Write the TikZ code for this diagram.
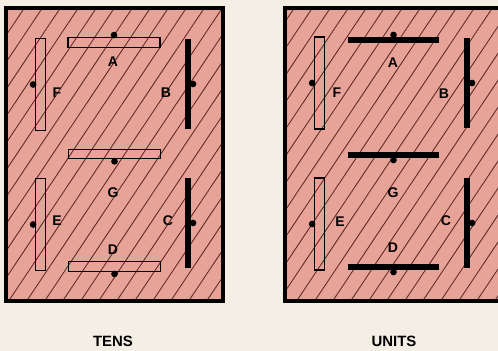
\documentclass[tikz,border=0pt]{standalone}
\usepackage{fontspec}
\setsansfont{Liberation Sans}
\usetikzlibrary{positioning}
\definecolor{paper}{HTML}{F4EFE4}
\definecolor{salmon}{HTML}{E8A398}
\definecolor{hatchred}{HTML}{5E2A26}
\tikzset{
    font=\sffamily\bfseries,
    % Panels
    panel/.style={draw=black, line width=1.8pt},
    hatch/.style={hatchred, line width=0.5pt},
    % Segments
    hsegOff/.style={rectangle, draw=black, line width=0.8pt, inner sep=0pt,
                    minimum width=1.84cm, minimum height=0.19cm},
    vsegOff/.style={rectangle, draw=black, line width=0.8pt, inner sep=0pt,
                    minimum width=0.19cm, minimum height=1.84cm},
    hsegOn/.style={rectangle, fill=black, inner sep=0pt,
                   minimum width=1.82cm, minimum height=0.11cm},
    vsegOn/.style={rectangle, fill=black, inner sep=0pt,
                   minimum width=0.11cm, minimum height=1.82cm},
    pin/.style={circle, fill=black, inner sep=0pt, minimum size=3.8pt},
    % Labels
    lbl/.style={font=\fontsize{8}{9}\sffamily\bfseries, inner sep=0pt},
    caption/.style={font=\fontsize{8.5}{10}\sffamily\bfseries, inner sep=0pt}
}

\begin{document}
\begin{tikzpicture}[x=0.02cm, y=-0.02cm]

\useasboundingbox[fill=paper] (0,0) rectangle (498,351);

% Panels with hatching
\fill[salmon] (6,8) rectangle (223,301);
\fill[salmon] (285,8) rectangle (510,301);
\begin{scope}
    \clip (6,8) rectangle (223,301) (285,8) rectangle (510,301);
    \foreach \x in {-220,-202,...,520}
        \draw[hatch] (\x,320) -- ++(215,-322);
\end{scope}
\draw[panel] (6,8) rectangle (223,301);
\draw[panel] (285,8) rectangle (510,301);

% Tens digit
\node[hsegOff] (tA) at (114,42.5) {};
\node[vsegOn] (tB) at (188,84) {};
\node[vsegOn] (tC) at (188,223) {};
\node[hsegOff] (tD) at (114.5,266.5) {};
\node[vsegOff] (tE) at (40.5,224.5) {};
\node[vsegOff] (tF) at (40.5,84.5) {};
\node[hsegOff] (tG) at (114.5,154) {};

\node[pin, above=-1pt of tA] (tpA) {};
\node[pin, right=-1pt of tB] (tpB) {};
\node[pin, right=-1pt of tC] (tpC) {};
\node[pin, below=-1pt of tD] (tpD) {};
\node[pin, left=-1pt of tE] (tpE) {};
\node[pin, left=-1pt of tF] (tpF) {};
\node[pin, below=-1pt of tG] (tpG) {};

\node[lbl] (tlA) at (113,62) {A};
\node[lbl] (tlB) at (166,93) {B};
\node[lbl] (tlC) at (168,221) {C};
\node[lbl] (tlD) at (113,250) {D};
\node[lbl] (tlE) at (57,221) {E};
\node[lbl] (tlF) at (57,93) {F};
\node[lbl] (tlG) at (113,193) {G};

% Units digit
\node[hsegOn] (uA) at (393.5,40) {};
\node[vsegOn] (uB) at (467,83) {};
\node[vsegOn] (uC) at (467,223) {};
\node[hsegOn] (uD) at (393.5,267) {};
\node[vsegOff] (uE) at (319.5,224) {};
\node[vsegOff] (uF) at (319.5,83) {};
\node[hsegOn] (uG) at (393.5,155) {};

\node[pin, above=-1pt of uA] (upA) {};
\node[pin, right=-1pt of uB] (upB) {};
\node[pin, right=-1pt of uC] (upC) {};
\node[pin, below=-1pt of uD] (upD) {};
\node[pin, left=-1pt of uE] (upE) {};
\node[pin, left=-1pt of uF] (upF) {};
\node[pin, below=-1pt of uG] (upG) {};

\node[lbl] (ulA) at (393,63) {A};
\node[lbl] (ulB) at (444,94) {B};
\node[lbl] (ulC) at (446,221) {C};
\node[lbl] (ulD) at (393,248) {D};
\node[lbl] (ulE) at (340,222) {E};
\node[lbl] (ulF) at (337,93) {F};
\node[lbl] (ulG) at (393,193) {G};

% Captions
\node[caption] (tens) at (113,341) {TENS};
\node[caption] (units) at (394,341) {UNITS};

\end{tikzpicture}
\end{document}
